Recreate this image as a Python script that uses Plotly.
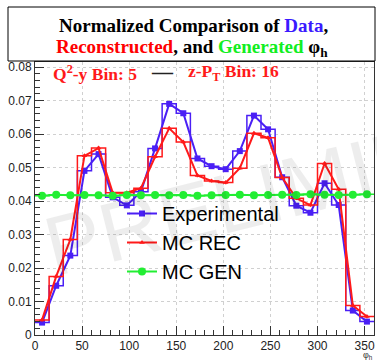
import plotly.graph_objects as go

bin_width = 15
bin_centers = [7.5 + 15 * i for i in range(24)]

exp_vals = [0.0037, 0.0147, 0.0237, 0.0490, 0.0540, 0.0411, 0.0387, 0.0428,
            0.0557, 0.0690, 0.0662, 0.0527, 0.0504, 0.0495, 0.0549, 0.0655,
            0.0614, 0.0471, 0.0386, 0.0365, 0.0453, 0.0388, 0.0073, 0.0040]
exp_errs = [0.0004] * 24

rec_vals = [0.0045, 0.0175, 0.0285, 0.0535, 0.0558, 0.0425, 0.0425, 0.0438,
            0.0532, 0.0617, 0.0576, 0.0476, 0.0460, 0.0455, 0.0498, 0.0602,
            0.0589, 0.0470, 0.0408, 0.0388, 0.0512, 0.0435, 0.0088, 0.0055]
rec_errs = [0.0005] * 24

gen_vals = [0.0416, 0.0419, 0.0417, 0.0418, 0.0417, 0.0416, 0.0418, 0.0417,
            0.0418, 0.0417, 0.0418, 0.0416, 0.0417, 0.0418, 0.0419, 0.0417,
            0.0418, 0.0419, 0.0418, 0.0420, 0.0419, 0.0418, 0.0419, 0.0420]
gen_errs = [0.0001] * 24

x_ticks = [0, 50, 100, 150, 200, 250, 300, 350]
y_ticks = [0, 0.01, 0.02, 0.03, 0.04, 0.05, 0.06, 0.07, 0.08]
y_tick_text = ["0", "0.01", "0.02", "0.03", "0.04", "0.05", "0.06", "0.07", "0.08"]

BLUE = "#4a1ff5"
RED = "#ff1a1a"
GREEN = "#22ee33"

edges = [c - bin_width / 2 for c in bin_centers] + [bin_centers[-1] + bin_width / 2]

fig = go.Figure()

def add_series(vals, errs, color, name, symbol, msize):
    fig.add_trace(go.Scatter(
        x=edges, y=vals + [vals[-1]], mode="lines", line=dict(color=color, width=1.5, shape="hv"),
        showlegend=False, hoverinfo="skip"))
    fig.add_trace(go.Scatter(
        x=bin_centers, y=vals, mode="lines+markers", name=name,
        line=dict(color=color, width=2),
        marker=dict(color=color, symbol=symbol, size=msize),
        error_y=dict(type="data", array=errs, color=color, thickness=1.5, width=0)))

add_series(exp_vals, exp_errs, BLUE, "Experimental", "square", 6)
add_series(rec_vals, rec_errs, RED, "MC REC", "triangle-up", 5)
add_series(gen_vals, gen_errs, GREEN, "MC GEN", "circle", 8)

L, R, T, B = 35, 3, 62, 26
PW, PH = 377 - L - R, 361 - T - B

def px(xpix):
    return (xpix - L) / PW

def py(ypix):
    return (361 - B - ypix) / PH

# faint watermark
fig.add_annotation(xref="paper", yref="paper", x=px(322), y=py(180), showarrow=False,
                   text="PRELIMINARY", textangle=-14,
                   font=dict(family="Liberation Sans", size=84, color="rgba(0,0,0,0.07)"),
                   xanchor="center", yanchor="middle")

fig.add_shape(type="rect", xref="paper", yref="paper",
              x0=px(8), x1=px(375), y0=py(61), y1=py(7),
              line=dict(color="black", width=1), fillcolor="white", layer="above")

title_font = dict(family="Liberation Serif", size=19, color="black")
fig.add_annotation(xref="paper", yref="paper", x=px(193), y=py(25), showarrow=False,
                   text="<b>Normalized Comparison of <span style='color:#3a1aff'>Data</span>,</b>",
                   font=title_font, xanchor="center", yanchor="middle")
fig.add_annotation(xref="paper", yref="paper", x=px(192), y=py(48), showarrow=False,
                   text="<b><span style='color:#ff0000'>Reconstructed</span>, and <span style='color:#11ee22'>Generated</span> φ<sub>h</sub></b>",
                   font=title_font, xanchor="center", yanchor="middle")

sub_font = dict(family="Liberation Serif", size=17.5, color="#ff1a1a")
fig.add_annotation(xref="paper", yref="paper", x=px(51), y=py(73), showarrow=False,
                   text="<b>Q<sup>2</sup>-y Bin: 5</b>", font=sub_font,
                   xanchor="left", yanchor="middle")
fig.add_annotation(xref="paper", yref="paper", x=px(162), y=py(72), showarrow=False,
                   text="<b>—</b>", font=dict(family="Liberation Serif", size=21, color="#222"),
                   xanchor="center", yanchor="middle")
fig.add_annotation(xref="paper", yref="paper", x=px(186), y=py(73), showarrow=False,
                   text="<b>z-P<sub>T</sub> Bin: 16</b>", font=sub_font,
                   xanchor="left", yanchor="middle")

fig.add_annotation(xref="paper", yref="paper", x=px(368), y=py(355), showarrow=False,
                   text="φ<sub>h</sub>", font=dict(family="Liberation Sans", size=9, color="#333"),
                   xanchor="center", yanchor="middle")

axis_common = dict(showline=True, linecolor="#333", linewidth=1, mirror=True,
                   ticks="inside", tickcolor="#333", ticklen=9,
                   showgrid=True, gridcolor="#d0d0d0", griddash="dot", gridwidth=1,
                   zeroline=False,
                   tickfont=dict(family="Liberation Sans", size=12, color="#222"))

fig.update_xaxes(range=[0, 360], tickvals=x_ticks,
                 minor=dict(dtick=10, ticks="inside", ticklen=5, tickcolor="#333", showgrid=False),
                 **axis_common)
fig.update_yaxes(range=[0, 0.0815], tickvals=y_ticks, ticktext=y_tick_text,
                 minor=dict(dtick=0.002, ticks="inside", ticklen=5, tickcolor="#333", showgrid=False),
                 **axis_common)

fig.update_layout(
    width=377, height=361,
    margin=dict(l=L, r=R, t=T, b=B),
    paper_bgcolor="white", plot_bgcolor="white",
    legend=dict(x=px(122), y=py(194), xanchor="left", yanchor="top",
                bgcolor="rgba(0,0,0,0)", borderwidth=0,
                font=dict(family="Liberation Sans", size=20, color="black"),
                itemwidth=30, tracegroupgap=0),
)

fig.write_html("out.html")
